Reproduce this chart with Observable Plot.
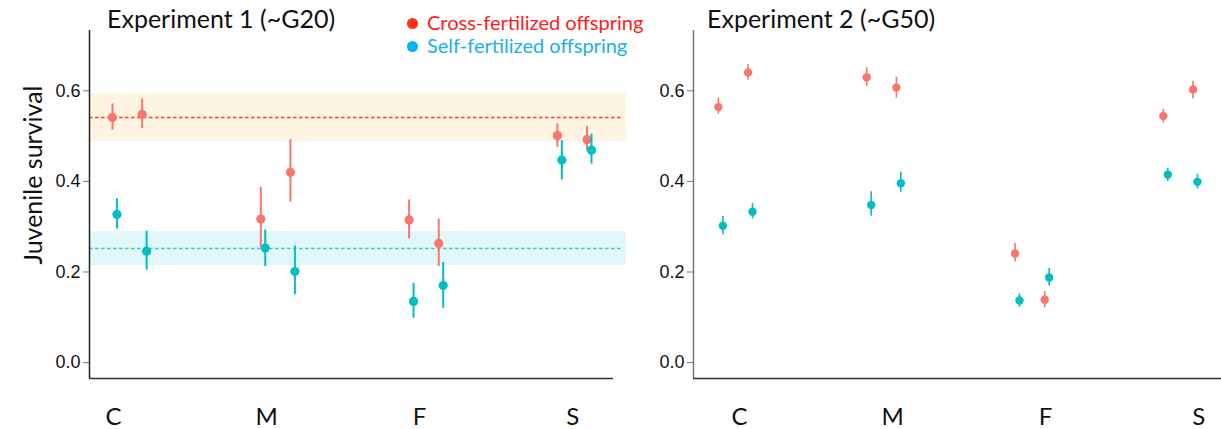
<!DOCTYPE html>
<html>
<head>
<meta charset="utf-8">
<script src="https://cdn.jsdelivr.net/npm/d3@7"></script>
<script src="https://cdn.jsdelivr.net/npm/@observablehq/plot@0.6"></script>
<style>
  body { margin: 0; background: #fff; }
  #wrap { position: relative; width: 1221px; height: 429px; overflow: hidden; font-family: Lato, "Open Sans", sans-serif; }
  .panel { position: absolute; top: 0; }
  .title { position: absolute; font-size: 25px; color: #111; white-space: nowrap; line-height: 1; }
  .legend { position: absolute; font-size: 20px; white-space: nowrap; line-height: 1; }
  .legend .dot { display: inline-block; width: 11px; height: 11px; border-radius: 50%; margin-right: 9px; vertical-align: middle; position: relative; top: -1px; }
  .ylab { position: absolute; font-size: 25px; color: #111; white-space: nowrap; transform: translate(-50%, -50%) rotate(-90deg); left: 32px; top: 175px; line-height: 1; }
</style>
</head>
<body>
<div id="wrap">
  <div class="panel" id="p1" style="left:0"></div>
  <div class="panel" id="p2" style="left:626px"></div>
  <div class="title" style="left:107px; top:6px">Experiment 1 (~G20)</div>
  <div class="title" style="left:707px; top:6px">Experiment 2 (~G50)</div>
  <div class="legend" style="left:407px; top:12px; color:#ff1a1a"><span class="dot" style="background:#ff3311"></span>Cross-fertilized offspring</div>
  <div class="legend" style="left:407px; top:35px; color:#1ab0e8"><span class="dot" style="background:#00b4f0"></span>Self-fertilized offspring</div>
  <div class="ylab">Juvenile survival</div>
</div>
<script>
// ---------- data ----------
const categories = ["C", "M", "F", "S"];
const replicates = [1, 2];
// order: C1, C2, M1, M2, F1, F2, S1, S2
const exp1CrossMean = [0.541, 0.548, 0.317, 0.420, 0.315, 0.263, 0.501, 0.492];
const exp1CrossLow  = [0.513, 0.517, 0.254, 0.354, 0.273, 0.212, 0.475, 0.468];
const exp1CrossHigh = [0.571, 0.582, 0.387, 0.492, 0.359, 0.317, 0.527, 0.521];
const exp1SelfMean  = [0.327, 0.246, 0.253, 0.201, 0.135, 0.170, 0.447, 0.469];
const exp1SelfLow   = [0.295, 0.204, 0.212, 0.150, 0.098, 0.120, 0.403, 0.438];
const exp1SelfHigh  = [0.362, 0.290, 0.293, 0.257, 0.175, 0.221, 0.490, 0.504];

const exp2CrossMean = [0.564, 0.640, 0.630, 0.607, 0.241, 0.139, 0.544, 0.603];
const exp2CrossLow  = [0.548, 0.623, 0.610, 0.584, 0.222, 0.121, 0.529, 0.582];
const exp2CrossHigh = [0.584, 0.658, 0.651, 0.630, 0.263, 0.157, 0.559, 0.621];
const exp2SelfMean  = [0.302, 0.333, 0.348, 0.396, 0.137, 0.188, 0.415, 0.399];
const exp2SelfLow   = [0.282, 0.317, 0.323, 0.376, 0.122, 0.169, 0.400, 0.383];
const exp2SelfHigh  = [0.323, 0.351, 0.377, 0.420, 0.152, 0.208, 0.429, 0.416];

// Experiment 1 reference bands: low, mean, high
const exp1CrossBandLow = 0.488, exp1CrossBandMean = 0.541, exp1CrossBandHigh = 0.594;
const exp1SelfBandLow = 0.214, exp1SelfBandMean = 0.252, exp1SelfBandHigh = 0.289;

const yTicks = [0, 0.2, 0.4, 0.6];

// ---------- styles ----------
const crossColor = "#F8766D";
const selfColor = "#00BFC4";

function rows(mean, low, high, type) {
  return mean.map((m, k) => ({
    cat: Math.floor(k / replicates.length),
    rep: replicates[k % replicates.length],
    type, mean: m, low: low[k], high: high[k]
  }));
}
function xPos(d) {
  return d.cat + (d.rep === 1 ? -0.1 : 0.1) + (d.type === "cross" ? -0.015 : 0.015);
}

const yLo = -0.035, yHi = 0.733;

function panel({cross, self, xLo, xHi, xAxisEnd, width, marginLeft, marginRight, labelShift, yAxisColor, bands, barWidth, r}) {
  const marks = [];
  if (bands) {
    const bandData = bands.map(b => ({lo: b.lo, mean: b.mean, hi: b.hi, fill: b.fill, line: b.line}));
    marks.push(Plot.rect(bandData, {x1: xLo, x2: xHi, y1: "lo", y2: "hi", fill: d => d.fill}));
    marks.push(Plot.ruleY(bandData, {y: "mean", x1: xLo, x2: xHi - 0.02, stroke: d => d.line, strokeWidth: 1.4, strokeDasharray: "3.5,2.5"}));
  }
  for (const data of [cross, self]) {
    marks.push(Plot.ruleX(data, {x: xPos, y1: "low", y2: "high", stroke: d => d.type === "cross" ? crossColor : selfColor, strokeWidth: barWidth}));
    marks.push(Plot.dot(data, {x: xPos, y: "mean", r, fill: d => d.type === "cross" ? crossColor : selfColor, stroke: "none"}));
  }
  marks.push(Plot.ruleX([xLo], {y1: yLo, y2: yHi, stroke: yAxisColor, strokeWidth: 1.5}));
  marks.push(Plot.ruleY([yLo], {x1: xLo, x2: xAxisEnd, stroke: "#333", strokeWidth: 1.5}));
  marks.push(Plot.axisY({ticks: yTicks, tickFormat: d3.format(".1f"), tickSize: 6, tickPadding: 3, fontSize: 18, fontFamily: "Liberation Sans", stroke: "#777", fill: "#111"}));
  marks.push(Plot.text(categories, {
    x: (d, i) => i * 1.032 + labelShift, y: yLo, dy: 39,
    text: d => d, fontSize: 24, fontFamily: "Lato", fill: "#111"
  }));
  return Plot.plot({
    width, height: 429,
    marginLeft, marginRight, marginTop: 30, marginBottom: 51,
    style: {fontFamily: "Liberation Sans, Arial, sans-serif", background: "transparent", overflow: "visible"},
    x: {domain: [xLo, xHi], axis: null},
    y: {domain: [yLo, yHi], axis: null},
    color: {type: "identity"},
    marks
  });
}

document.getElementById("p1").appendChild(panel({
  cross: rows(exp1CrossMean, exp1CrossLow, exp1CrossHigh, "cross"),
  self: rows(exp1SelfMean, exp1SelfLow, exp1SelfHigh, "self"),
  xLo: -0.27, xHi: 3.351, xAxisEnd: 3.264,
  width: 640, marginLeft: 89, marginRight: 14,
  labelShift: -0.108, yAxisColor: "#222",
  bands: [
    {lo: exp1CrossBandLow, mean: exp1CrossBandMean, hi: exp1CrossBandHigh, fill: "#fdf5e1", line: "#ff3b33"},
    {lo: exp1SelfBandLow, mean: exp1SelfBandMean, hi: exp1SelfBandHigh, fill: "#e2f7f7", line: "#3cc8c8"}
  ],
  barWidth: 2, r: 4.6
}));

document.getElementById("p2").appendChild(panel({
  cross: rows(exp2CrossMean, exp2CrossLow, exp2CrossHigh, "cross"),
  self: rows(exp2SelfMean, exp2SelfLow, exp2SelfHigh, "self"),
  xLo: -0.283, xHi: 3.277, xAxisEnd: 3.277,
  width: 595, marginLeft: 67, marginRight: 0,
  labelShift: 0.027, yAxisColor: "#777",
  bands: null,
  barWidth: 1.6, r: 4.2
}));
</script>
</body>
</html>
